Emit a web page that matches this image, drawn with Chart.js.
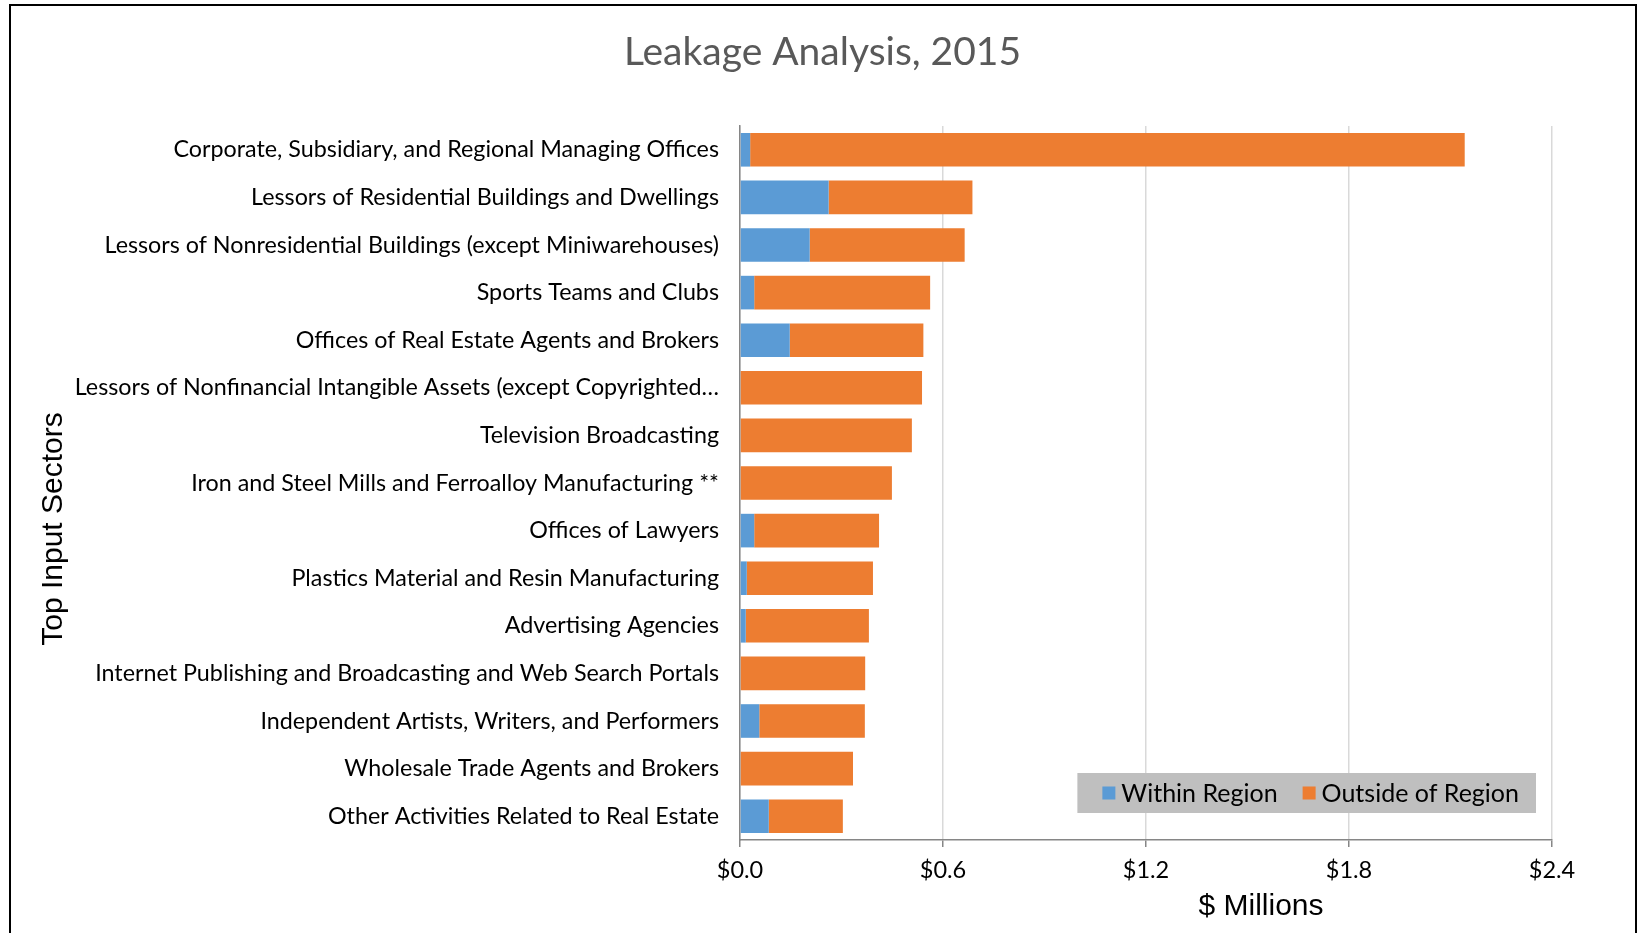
<!DOCTYPE html>
<html>
<head>
<meta charset="utf-8">
<script src="https://cdn.jsdelivr.net/npm/chart.js@4.4.1/dist/chart.umd.min.js"></script>
<style>
  html, body { margin: 0; padding: 0; background: #fff; overflow: hidden; }
  #frame { position: absolute; left: 9px; top: 4px; width: 1628px; height: 960px; border: 2px solid #000; box-sizing: border-box; }
  #chart { position: absolute; left: 0; top: 0; }
</style>
</head>
<body>
<div id="frame"></div>
<canvas id="chart" width="1645" height="933"></canvas>
<script>
const sectors = [
  'Corporate, Subsidiary, and Regional Managing Offices',
  'Lessors of Residential Buildings and Dwellings',
  'Lessors of Nonresidential Buildings (except Miniwarehouses)',
  'Sports Teams and Clubs',
  'Offices of Real Estate Agents and Brokers',
  'Lessors of Nonfinancial Intangible Assets (except Copyrighted…',
  'Television Broadcasting',
  'Iron and Steel Mills and Ferroalloy Manufacturing **',
  'Offices of Lawyers',
  'Plastics Material and Resin Manufacturing',
  'Advertising Agencies',
  'Internet Publishing and Broadcasting and Web Search Portals',
  'Independent Artists, Writers, and Performers',
  'Wholesale Trade Agents and Brokers',
  'Other Activities Related to Real Estate',
]

// $ millions
const withinRegion = [0.030, 0.262, 0.206, 0.042, 0.147, 0, 0, 0, 0.042, 0.020, 0.017, 0, 0.057, 0, 0.085]
const outsideRegion = [2.112, 0.425, 0.458, 0.520, 0.395, 0.538, 0.508, 0.449, 0.369, 0.373, 0.364, 0.370, 0.312, 0.334, 0.219]

const xTicks = [0, 0.6, 1.2, 1.8, 2.4]

const labelFont = 'Lato, "Noto Sans", sans-serif'
const axisTitleFont = '"Liberation Sans", Arial, sans-serif'

// Chart title, axis titles and the in-plot legend box
const extras = {
  id: 'extras',
  afterDraw(chart) {
    const { ctx, chartArea } = chart
    ctx.save()

    // chart title, centred on the whole canvas
    ctx.fillStyle = '#595959'
    ctx.font = '39px ' + labelFont
    ctx.textAlign = 'center'
    ctx.textBaseline = 'middle'
    ctx.fillText('Leakage Analysis, 2015', chart.width / 2, 52)

    // y axis title
    ctx.fillStyle = '#000'
    ctx.font = '30px ' + axisTitleFont
    ctx.translate(54, 529)
    ctx.rotate(-Math.PI / 2)
    ctx.fillText('Top Input Sectors', 0, 0)
    ctx.setTransform(1, 0, 0, 1, 0, 0)

    // x axis title
    ctx.font = '30px ' + axisTitleFont
    ctx.fillText('$ Millions', 1261, 907)

    // legend
    ctx.font = '25px ' + labelFont
    const sw = 13, gap = 6, itemGap = 25, padL = 25, padR = 17
    const items = chart.data.datasets.map((d) => ({ label: d.label, color: d.backgroundColor, w: ctx.measureText(d.label).width }))
    let total = padL + padR
    items.forEach((it, i) => { total += sw + gap + it.w + (i ? itemGap : 0) })
    const boxH = 40
    const boxR = chartArea.right - 16
    const boxB = chartArea.bottom - 27
    const boxL = boxR - total
    const boxT = boxB - boxH
    ctx.fillStyle = '#bfbfbf'
    ctx.fillRect(boxL, boxT, total, boxH)
    let x = boxL + padL
    const cy = boxT + boxH / 2
    ctx.textAlign = 'left'
    items.forEach((it, i) => {
      if (i) x += itemGap
      ctx.fillStyle = it.color
      ctx.fillRect(x, cy - sw / 2, sw, sw)
      x += sw + gap
      ctx.fillStyle = '#000'
      ctx.fillText(it.label, x, cy + 1)
      x += it.w
    })
    ctx.restore()
  },
}

new Chart(document.getElementById('chart'), {
  type: 'bar',
  data: {
    labels: sectors,
    datasets: [
      { label: 'Within Region', data: withinRegion, backgroundColor: '#5b9bd5', barPercentage: 0.706, categoryPercentage: 1 },
      { label: 'Outside of Region', data: outsideRegion, backgroundColor: '#ed7d31', barPercentage: 0.706, categoryPercentage: 1 },
    ],
  },
  options: {
    indexAxis: 'y',
    responsive: false,
    animation: false,
    layout: { padding: { left: 0, right: 93, top: 126, bottom: 0 } },
    plugins: {
      legend: { display: false },
      tooltip: { enabled: false },
      title: { display: false },
    },
    scales: {
      x: {
        stacked: true,
        min: 0,
        max: 2.4,
        afterBuildTicks: (scale) => { scale.ticks = xTicks.map((v) => ({ value: v })) },
        afterFit: (scale) => { scale.height = 93 },
        ticks: {
          color: '#000',
          font: { family: labelFont, size: 23.5 },
          padding: 9,
          callback: (v) => '$' + Number(v).toFixed(1),
        },
        grid: { color: '#d9d9d9', lineWidth: 1.5, tickColor: '#868686', tickLength: 7 },
        border: { color: '#868686', width: 1.5 },
      },
      y: {
        stacked: true,
        afterFit: (scale) => { scale.width = 740 },
        ticks: {
          color: '#000',
          font: { family: labelFont, size: 23.3 },
          padding: 13,
        },
        grid: { display: false },
        border: { color: '#868686', width: 1.5 },
      },
    },
  },
  plugins: [extras],
})
</script>
</body>
</html>
